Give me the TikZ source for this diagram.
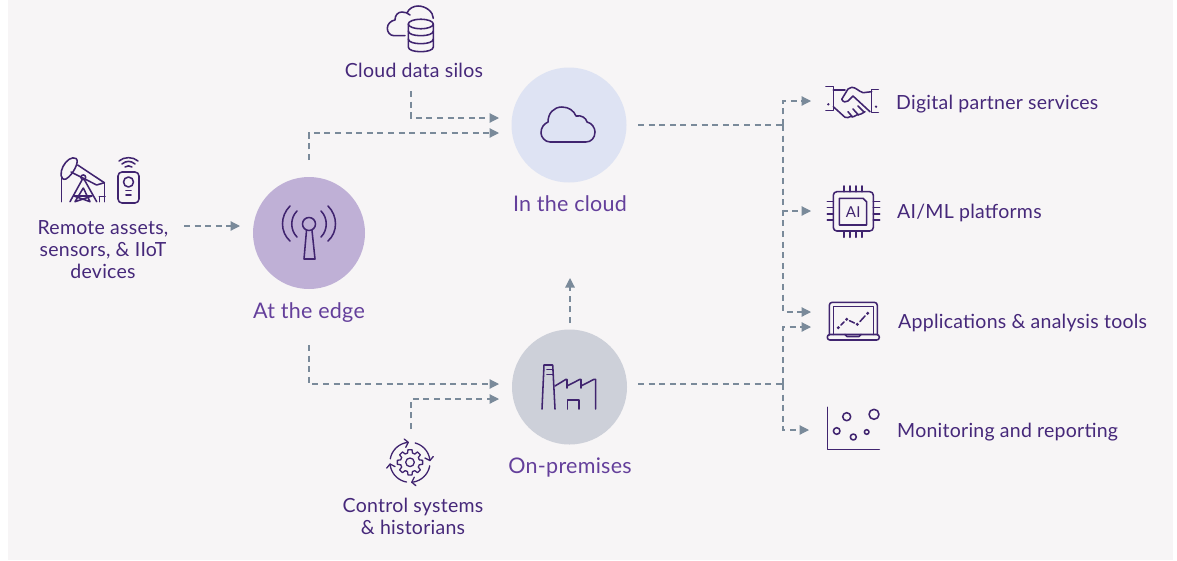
\documentclass[tikz,border=0pt]{standalone}
\usepackage{fontspec}
\setmainfont[LetterSpace=1.3]{Lato}
\usetikzlibrary{arrows.meta}
\definecolor{panel}{HTML}{F7F5F6}
\definecolor{ink}{HTML}{40246F}
\definecolor{lab}{HTML}{46287A}
\definecolor{hlab}{HTML}{643F9B}
\definecolor{flowc}{HTML}{7A8A9A}
\definecolor{cedge}{HTML}{BFB0D6}
\definecolor{ccloud}{HTML}{DEE3F3}
\definecolor{cprem}{HTML}{CDD0D9}
\tikzset{
  flow/.style={draw=flowc,line width=1.15pt,dash pattern=on 6pt off 4.6pt,-{Triangle[length=9.5pt,width=9.5pt,fill=flowc]}},
  trunk/.style={draw=flowc,line width=1.15pt,dash pattern=on 6pt off 4.6pt},
  icon/.style={draw=ink,line width=1.55pt,line cap=round,line join=round},
  hub/.style={circle,inner sep=0pt,minimum size=#1},
  hublabel/.style={text=hlab,font=\fontsize{21.5}{24}\selectfont,inner sep=0pt},
  lbl/.style={text=lab,font=\fontsize{19.5}{22}\selectfont,inner sep=0pt,align=center},
  rlbl/.style={lbl,anchor=west}
}
\begin{document}
\begin{tikzpicture}[x=1pt,y=-1pt]
\useasboundingbox (0,0) rectangle (1177,560);
\fill[white] (0,0) rectangle (1177,560);
\fill[panel] (8,0) rectangle (1173,560);
% hubs
\node[hub=112pt,fill=cedge] (edge) at (309,233) {};
\node[hub=115pt,fill=ccloud] (cloud) at (569,125) {};
\node[hub=115pt,fill=cprem] (prem) at (569.5,387) {};
\node[hublabel] (edgel) at (309,313) {At the edge};
\node[hublabel] (cloudl) at (570,203.5) {In the cloud};
\node[hublabel] (preml) at (570,467) {On-premises};
% labels
\node[lbl] (remote) at (103,250) {Remote assets,\\sensors, \& IIoT\\devices};
\node[lbl] (silos) at (414,70.5) {Cloud data silos};
\node[lbl] (control) at (413,516.5) {Control systems\\\& historians};
\node[rlbl] (digital) at (896,104) {Digital partner services};
\node[rlbl] (aiml) at (897,213) {AI/ML platforms};
\node[rlbl] (apps) at (898,323) {Applications \& analysis tools};
\node[rlbl] (monitor) at (897,432) {Monitoring and reporting};
% connector points
\coordinate (rs) at (184,226); \coordinate (re) at (240,226);
\coordinate (et) at (309,160); \coordinate (ct1) at (499,133);
\coordinate (ss) at (411,91);  \coordinate (ct2) at (499,118);
\coordinate (eb) at (309,345); \coordinate (pt1) at (499,384);
\coordinate (cs) at (411,429); \coordinate (pt2) at (499,399);
\coordinate (pu) at (570,323); \coordinate (pv) at (570,278);
\coordinate (co) at (638,125); \coordinate (po) at (638,384);
\coordinate (ja) at (783,125); \coordinate (jb) at (783,384);
\coordinate (d1) at (811,101); \coordinate (d2) at (811,211);
\coordinate (d3) at (811,312); \coordinate (d4) at (811,327);
\coordinate (d5) at (809,430);
% connectors
\draw[flow] (rs) -- (re);
\draw[flow] (et) |- (ct1);
\draw[flow] (ss) |- (ct2);
\draw[flow] (eb) |- (pt1);
\draw[flow] (cs) |- (pt2);
\draw[flow] (pu) -- (pv);
\draw[trunk] (co) -- (ja);
\draw[trunk] (po) -- (jb);
\draw[flow] (ja) |- (d1);
\draw[flow] (ja) |- (d2);
\draw[flow] (ja) |- (d3);
\draw[flow] (jb) |- (d4);
\draw[flow] (jb) |- (d5);
% edge antenna icon
\draw[icon] (309,224) circle[radius=6.5];
\draw[icon] (306.5,230.5) -- (304,259) -- (315,259) -- (312,230.5);
\draw[icon] (297,211) .. controls (290,218) and (290,230) .. (297,237);
\draw[icon] (290,206) .. controls (280,216) and (280,232) .. (290,241);
\draw[icon] (321,211) .. controls (328,218) and (328,230) .. (321,237);
\draw[icon] (328,206) .. controls (338,216) and (338,232) .. (328,241);
% cloud icon
\draw[icon] (550,142) .. controls (545,142) and (541,137) .. (541,133) .. controls (541,127) and (544,124) .. (548,122) .. controls (548,113) and (554,107) .. (562,107) .. controls (569,107) and (574,111) .. (576,116) .. controls (582,115) and (586,118) .. (587,122) .. controls (592,123) and (595,128) .. (595,132) .. controls (595,138) and (591,142) .. (586,142) -- cycle;
% factory icon
\draw[icon] (542,409) -- (544,365) -- (552.7,365) -- (555,409);
\draw[icon] (547,369.5) -- (553,369.5) (547,374.5) -- (553.4,374.5);
\draw[icon] (555,386) -- (566,379.3) -- (567,379.3) -- (567,388);
\draw[icon] (567,386) -- (580,379.3) -- (581,379.3) -- (581,388);
\draw[icon] (581,386) -- (594,379.3) -- (595.7,379.3) -- (595.7,409);
\draw[icon] (567.3,409) -- (567.3,400) -- (579,400) -- (579,409);
% silo cloud icon
\draw[icon] (405,35.7) -- (394,35.7) .. controls (390,35.7) and (387.3,32) .. (387.3,28.3) .. controls (387.3,24) and (391,20.5) .. (395,20) .. controls (395,15) and (398,12) .. (402,12) .. controls (405,12) and (408,13) .. (410,15);
\draw[icon] (407,13) .. controls (409,8) and (414,6) .. (418,6) .. controls (426,6) and (433.3,12) .. (433.3,18.3);
\draw[icon] (420.8,24) ellipse[x radius=12.5,y radius=4.8];
\draw[icon] (408.3,24) -- (408.3,47) .. controls (408.3,50) and (414,51.7) .. (420.8,51.7) .. controls (427.6,51.7) and (433.3,50) .. (433.3,47) -- (433.3,24);
\draw[icon] (408.3,31) .. controls (408.3,34) and (414,35.7) .. (420.8,35.7) .. controls (427.6,35.7) and (433.3,34) .. (433.3,31);
\draw[icon] (408.3,39) .. controls (408.3,42) and (414,43.7) .. (420.8,43.7) .. controls (427.6,43.7) and (433.3,42) .. (433.3,39);
% pump jack icon
\draw[icon] (76,158.5) .. controls (80,161) and (73,175) .. (66,179) .. controls (60,181) and (60,172) .. (63,166.5) .. controls (66,160.5) and (72,156) .. (76,158.5) -- cycle;
\draw[icon] (77.7,165) -- (104.3,182.7);
\draw[icon] (71,172) -- (96.7,185) -- (104.3,182.7);
\draw[icon] (83.3,177.3) circle[radius=2.4];
\draw[icon] (82,180) -- (70,201.7);
\draw[icon] (84.5,180) -- (96.7,201.7);
\draw[icon] (83.3,188) -- (75,201.7) -- (92,196) -- (74,196) -- (90,201.7) -- (83.3,188);
\draw[icon] (104.3,182.7) -- (104.3,201.7) (99.3,196.7) -- (99.3,201.7) (99.3,196.7) -- (105,196.7);
\draw[icon] (61.7,178) -- (61.7,201.7);
% remote sensor icon
\draw[icon,rounded corners=4pt] (118,172) rectangle (139,203);
\draw[icon] (128.5,182) circle[radius=5];
\draw[icon] (126,190.7) -- (131,190.7) (126,195) -- (131,195);
\draw[icon] (119,161) .. controls (124,156.5) and (133,156.5) .. (138,161);
\draw[icon] (122,164) .. controls (126,160.5) and (131,160.5) .. (135,164);
\draw[icon] (125,167) .. controls (127,165.5) and (130,165.5) .. (132,167);
% gear icon
\foreach \a in {0,45,...,315}{
  \draw[icon,line width=1.3pt,shift={(410,462.3)}] (\a-15:9.6) -- (\a-9:12.8) -- (\a+9:12.8) -- (\a+15:9.6) -- (\a+30:9.6);
}
\draw[icon,line width=1.3pt] (410,462.3) circle[radius=4.3];
\foreach \s/\e/\t in {190/265/1,285/355/2,10/85/3,100/175/4}{
  \draw[icon,line width=1.3pt,shift={(410,462.3)}] plot[domain=\s:\e,samples=14] ({20*cos(\x)},{20*sin(\x)});
  \draw[icon,line width=1.3pt,shift={(410,462.3)}] (\e-9:24) -- (\e:20) -- (\e-11:15.5);
}
% handshake icon
\draw[icon] (826,86.7) -- (833.3,86.7) -- (833.3,110.7) -- (826,110.7);
\draw[icon] (878.3,89.3) -- (871.7,89.3) -- (871.7,112.7) -- (878.3,112.7);
\fill[ink] (828.3,104.3) circle[radius=1.3] (876,106.7) circle[radius=1.3];
\draw[icon] (833.3,90) -- (845,90);
\draw[icon] (871.7,91.7) -- (863,92.7) .. controls (858,91) and (856,87.3) .. (851.7,87.3) -- (848,89) -- (841.7,99.3) .. controls (843,102) and (846,103) .. (848,101) -- (853,96) -- (870,111.7);
\draw[icon] (833.3,106.7) -- (845,117.3) .. controls (847,118) and (849,117.5) .. (850,116.7) .. controls (853,117) and (855,116.5) .. (856.7,115) .. controls (860,115) and (862,113.5) .. (865,111.7);
\draw[icon] (848,111.7) -- (852.5,117);
\draw[icon] (853,109) -- (858.5,115);
\draw[icon] (858,106) -- (864,112);
% chip icon
\draw[icon,rounded corners=3.5pt] (833.3,191.7) rectangle (873.3,231);
\draw[icon] (839.3,198.3) -- (863,198.3) -- (866.7,202) -- (866.7,225) -- (839.3,225) -- cycle;
\node[text=ink,inner sep=0pt,font=\fontsize{15}{16}\selectfont] (ai) at (853.2,211.8) {AI};
\foreach \v in {844,850,856,862}{
  \draw[icon] (\v,186) -- (\v,191.7) (\v,231) -- (\v,237.3);
}
\foreach \v in {201.7,207.7,214,220}{
  \draw[icon] (827.3,\v) -- (833.3,\v) (873.3,\v) -- (879.7,\v);
}
% laptop icon
\draw[icon,rounded corners=3pt] (829.3,335) -- (829.3,302.3) -- (877.3,302.3) -- (877.3,335);
\draw[icon] (833.3,334.5) -- (833.3,306.7) -- (873.3,306.7) -- (873.3,334.5);
\draw[icon,rounded corners=2.5pt] (827.3,334.5) -- (827.3,340) -- (879.3,340) -- (879.3,334.5) -- cycle;
\draw[icon] (845,334.5) -- (847,336.5) -- (859,336.5) -- (861,334.5);
\fill[ink] (838.3,327.7) circle[radius=1.7] (846.7,319.3) circle[radius=1.7] (857.3,324.3) circle[radius=1.7] (867.7,313.3) circle[radius=1.7];
\draw[icon] (841,325) -- (844,322) (849.5,320.7) -- (854.5,323) (860,321.5) -- (865,316);
% scatter icon
\draw[icon] (827.3,407.3) -- (827.3,449.3) -- (879.3,449.3);
\draw[icon] (846.7,416.7) circle[radius=4];
\draw[icon] (874,414.3) circle[radius=5];
\draw[icon] (836.7,431) circle[radius=3.3];
\draw[icon] (853.3,437) circle[radius=3];
\draw[icon] (866.7,432) circle[radius=2.3];
\end{tikzpicture}
\end{document}
